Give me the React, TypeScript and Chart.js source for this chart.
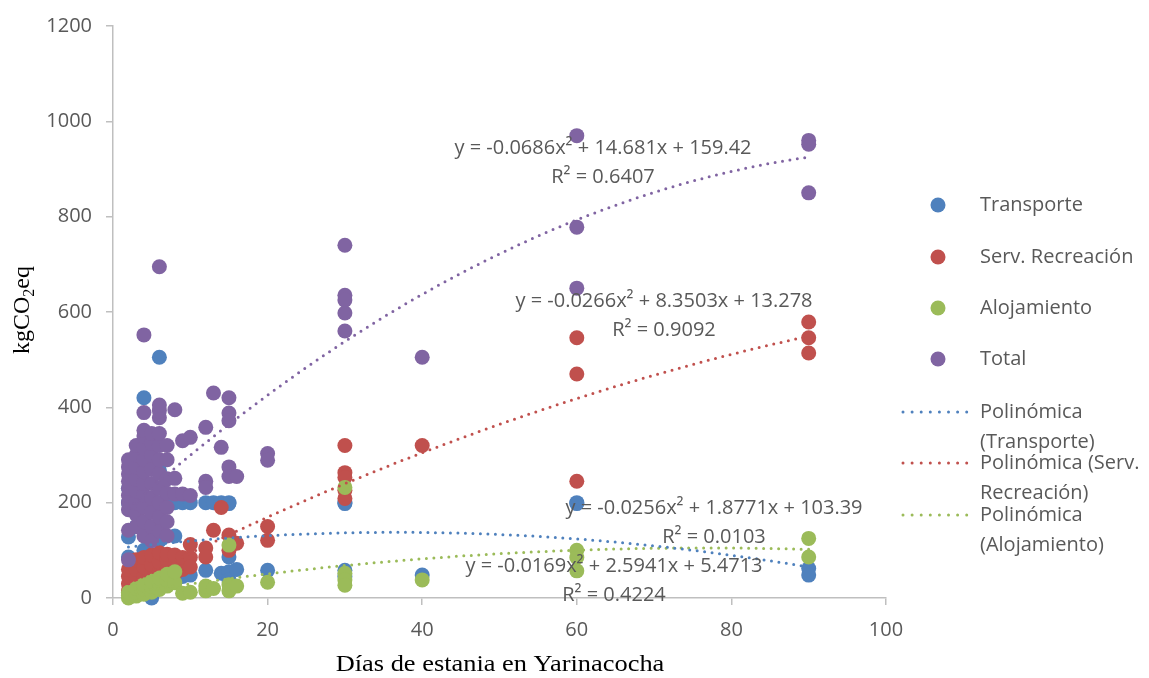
import React, { useEffect, useRef } from "react";
import { Chart, registerables } from "chart.js";

Chart.register(...registerables);

const W = 1149;
const H = 678;

// ---- data (x = días, y = kgCO2eq) ----
const transporte: [number, number][] = [
  [2, 128], [2, 200], [2, 230], [2, 86], [3, 200], [3, 60], [3, 150],
  [4, 420], [4, 200], [4, 100], [5, 0], [5, 198], [5, 130], [5, 15],
  [6, 505], [6, 268], [6, 200], [6, 120], [7, 200], [7, 60], [8, 200], [8, 130],
  [9, 200], [9, 45], [10, 200], [10, 48], [12, 200], [12, 58], [13, 200],
  [14, 200], [14, 52], [15, 200], [15, 198], [15, 86], [15, 55], [15, 38],
  [16, 60], [20, 58], [30, 200], [30, 198], [30, 58], [30, 45], [40, 48],
  [60, 200], [60, 198], [90, 62], [90, 48],
];

const recreacion: [number, number][] = [
  [2, 15], [2, 30], [2, 45], [2, 60], [3, 20], [3, 40], [3, 60], [3, 80],
  [4, 25], [4, 45], [4, 65], [4, 85], [5, 30], [5, 50], [5, 70], [5, 90],
  [6, 35], [6, 55], [6, 75], [6, 95], [7, 40], [7, 60], [7, 80], [7, 92],
  [8, 50], [8, 70], [8, 90], [9, 60], [9, 85], [10, 112], [10, 85], [10, 65],
  [12, 105], [12, 86], [13, 142], [14, 190], [15, 132], [15, 100], [16, 115],
  [20, 150], [20, 121], [30, 320], [30, 263], [30, 253], [30, 226], [30, 209],
  [40, 320], [60, 546], [60, 470], [60, 245], [90, 579], [90, 546], [90, 514],
];

const alojamiento: [number, number][] = [
  [2, 0], [2, 6], [2, 12], [3, 4], [3, 12], [3, 20], [4, 8], [4, 18], [4, 28],
  [5, 12], [5, 24], [5, 35], [6, 18], [6, 30], [6, 42], [7, 25], [7, 38], [7, 50],
  [8, 32], [8, 55], [9, 10], [10, 12], [12, 15], [12, 25], [13, 20],
  [15, 111], [15, 28], [15, 15], [16, 25], [20, 33],
  [30, 232], [30, 52], [30, 38], [30, 27], [40, 38],
  [60, 100], [60, 85], [60, 57], [90, 125], [90, 86],
];

const total: [number, number][] = [
  [2, 80], [2, 142], [2, 185], [2, 200], [2, 215], [2, 230], [2, 245], [2, 260], [2, 275], [2, 290],
  [3, 150], [3, 175], [3, 200], [3, 225], [3, 250], [3, 275], [3, 300], [3, 320],
  [4, 130], [4, 160], [4, 190], [4, 215], [4, 240], [4, 265], [4, 290], [4, 315], [4, 340], [4, 352], [4, 389], [4, 552],
  [5, 120], [5, 150], [5, 180], [5, 210], [5, 240], [5, 270], [5, 300], [5, 325], [5, 345],
  [6, 140], [6, 170], [6, 200], [6, 230], [6, 261], [6, 290], [6, 320], [6, 345], [6, 378], [6, 393], [6, 405], [6, 695],
  [7, 130], [7, 160], [7, 190], [7, 220], [7, 250], [7, 290], [7, 320],
  [8, 251], [8, 395], [8, 218], [9, 330], [9, 218], [10, 337], [10, 215],
  [12, 358], [12, 245], [12, 232], [13, 430], [14, 316],
  [15, 420], [15, 388], [15, 372], [15, 275], [15, 255], [16, 255],
  [20, 303], [20, 289], [30, 740], [30, 635], [30, 625], [30, 598], [30, 560],
  [40, 505], [60, 970], [60, 778], [60, 650], [90, 960], [90, 952], [90, 850],
];

// polynomial trendline coefficients [a2, a1, a0] as printed on the chart
const coefTransporte = [-0.0256, 1.8771, 103.39];
const coefRecreacion = [-0.0266, 8.3503, 13.278];
const coefAlojamiento = [-0.0169, 2.5941, 5.4713];
const coefTotal = [-0.0686, 14.681, 159.42];
const trendRange = [2, 90];

const eqTransporte = ["y = -0.0256x² + 1.8771x + 103.39", "R² = 0.0103"];
const eqRecreacion = ["y = -0.0266x² + 8.3503x + 13.278", "R² = 0.9092"];
const eqAlojamiento = ["y = -0.0169x² + 2.5941x + 5.4713", "R² = 0.4224"];
const eqTotal = ["y = -0.0686x² + 14.681x + 159.42", "R² = 0.6407"];

const xTickValues = [0, 20, 40, 60, 80, 100];
const yTickValues = [0, 200, 400, 600, 800, 1000, 1200];

const legendPoints = ["Transporte", "Serv. Recreación", "Alojamiento", "Total"];
const legendLines = [
  ["Polinómica", "(Transporte)"],
  ["Polinómica (Serv.", "Recreación)"],
  ["Polinómica", "(Alojamiento)"],
];

const BLUE = "#4F81BD";
const RED = "#C0504D";
const GREEN = "#9BBB59";
const PURPLE = "#8064A2";
const TEXT = "#595959";
const AXIS = "#BFBFBF";
const SANS = '"Open Sans", sans-serif';
const SERIF = '"Liberation Serif", "Times New Roman", serif';

function trendPoints(coef: number[]) {
  const pts: { x: number; y: number }[] = [];
  for (let x = trendRange[0]; x <= trendRange[1] + 1e-9; x += 0.5) {
    pts.push({ x, y: coef[0] * x * x + coef[1] * x + coef[2] });
  }
  return pts;
}

const toXY = (arr: [number, number][]) => arr.map(([x, y]) => ({ x, y }));

function scatterDs(label: string, arr: [number, number][], color: string, order: number) {
  return {
    type: "scatter" as const,
    label,
    data: toXY(arr),
    backgroundColor: color,
    borderColor: color,
    borderWidth: 0,
    pointRadius: 7.5,
    pointHoverRadius: 7.5,
    order,
    clip: false as any,
  };
}

function trendDs(label: string, coef: number[], color: string) {
  return {
    type: "line" as const,
    label,
    data: trendPoints(coef),
    borderColor: color,
    backgroundColor: color,
    borderWidth: 3,
    borderDash: [0, 7.5],
    borderCapStyle: "round" as const,
    pointRadius: 0,
    fill: false,
    tension: 0,
    order: 0,
    clip: false as any,
  };
}

const textPlugin = {
  id: "texts",
  afterDraw(chart: any) {
    const ctx: CanvasRenderingContext2D = chart.ctx;
    ctx.save();
    ctx.fillStyle = TEXT;
    ctx.textAlign = "center";
    ctx.textBaseline = "middle";
    ctx.font = `20px ${SANS}`;
    const eqs: [string[], number, number][] = [
      [eqTotal, 603, 148],
      [eqRecreacion, 664, 301],
      [eqTransporte, 714, 508],
      [eqAlojamiento, 614, 566],
    ];
    for (const [lines, cx, cy] of eqs) {
      ctx.fillText(lines[0], cx, cy);
      ctx.fillText(lines[1], cx, cy + 29);
    }

    // legend
    const ptColors = [BLUE, RED, GREEN, PURPLE];
    const rows = [205, 257, 308, 359];
    ctx.textAlign = "left";
    legendPoints.forEach((t, i) => {
      ctx.beginPath();
      ctx.fillStyle = ptColors[i];
      ctx.arc(938, rows[i], 7.5, 0, Math.PI * 2);
      ctx.fill();
      ctx.fillStyle = TEXT;
      ctx.fillText(t, 980, rows[i]);
    });
    const lineColors = [BLUE, RED, GREEN];
    const lineRows = [412, 463, 515];
    legendLines.forEach((lines, i) => {
      const y = lineRows[i];
      ctx.save();
      ctx.strokeStyle = lineColors[i];
      ctx.lineWidth = 3;
      ctx.lineCap = "round";
      ctx.setLineDash([0, 9.1]);
      ctx.beginPath();
      ctx.moveTo(903, y);
      ctx.lineTo(968, y);
      ctx.stroke();
      ctx.restore();
      ctx.fillStyle = TEXT;
      ctx.fillText(lines[0], 980, y);
      ctx.fillText(lines[1], 980, y + 30);
    });

    // x axis title (slightly widened like the original)
    ctx.save();
    ctx.fillStyle = "#000";
    ctx.textAlign = "center";
    ctx.textBaseline = "alphabetic";
    ctx.font = `24px ${SERIF}`;
    ctx.translate(500, 671);
    ctx.scale(1.1, 1);
    ctx.fillText("Días de estania en Yarinacocha", 0, 0);
    ctx.restore();

    // y axis title with subscript
    ctx.save();
    ctx.fillStyle = "#000";
    ctx.translate(29, 310);
    ctx.rotate(-Math.PI / 2);
    ctx.textAlign = "left";
    ctx.textBaseline = "alphabetic";
    const big = `24px ${SERIF}`;
    const small = `16px ${SERIF}`;
    ctx.font = big;
    const w1 = ctx.measureText("kgCO").width;
    const w3 = ctx.measureText("eq").width;
    ctx.font = small;
    const w2 = ctx.measureText("2").width;
    let x0 = -(w1 + w2 + w3) / 2;
    ctx.font = big;
    ctx.fillText("kgCO", x0, 0);
    x0 += w1;
    ctx.font = small;
    ctx.fillText("2", x0, 5);
    x0 += w2;
    ctx.font = big;
    ctx.fillText("eq", x0, 0);
    ctx.restore();

    ctx.restore();
  },
};

export default function App() {
  const ref = useRef<HTMLCanvasElement | null>(null);
  useEffect(() => {
    if (!ref.current) return;
    const chart = new Chart(ref.current, {
      type: "scatter",
      data: {
        datasets: [
          trendDs("Polinómica (Transporte)", coefTransporte, BLUE),
          trendDs("Polinómica (Serv. Recreación)", coefRecreacion, RED),
          trendDs("Polinómica (Alojamiento)", coefAlojamiento, GREEN),
          trendDs("Polinómica (Total)", coefTotal, PURPLE),
          scatterDs("Total", total, PURPLE, 1),
          scatterDs("Alojamiento", alojamiento, GREEN, 2),
          scatterDs("Serv. Recreación", recreacion, RED, 3),
          scatterDs("Transporte", transporte, BLUE, 4),
        ] as any,
      },
      options: {
        responsive: false,
        maintainAspectRatio: false,
        animation: false,
        devicePixelRatio: 1,
        layout: { padding: { left: 0, right: 263, top: 24, bottom: 0 } },
        plugins: {
          legend: { display: false },
          tooltip: { enabled: false },
        },
        scales: {
          x: {
            type: "linear",
            min: 0,
            max: 100,
            afterBuildTicks: (s: any) => {
              s.ticks = xTickValues.map((v) => ({ value: v }));
            },
            afterFit: (s: any) => {
              s.height = 80;
            },
            grid: {
              display: true,
              drawOnChartArea: false,
              drawTicks: true,
              tickLength: 7,
              color: AXIS,
              lineWidth: 1.5,
            },
            border: { display: true, color: AXIS, width: 1.5 },
            ticks: {
              font: { family: SANS, size: 20 },
              color: TEXT,
              padding: 13,
              maxRotation: 0,
              callback: (v: any) => String(v),
            },
          },
          y: {
            type: "linear",
            min: 0,
            max: 1200,
            afterBuildTicks: (s: any) => {
              s.ticks = yTickValues.map((v) => ({ value: v }));
            },
            afterFit: (s: any) => {
              s.width = 113;
            },
            grid: {
              display: true,
              drawOnChartArea: false,
              drawTicks: true,
              tickLength: 7,
              color: AXIS,
              lineWidth: 1.5,
            },
            border: { display: true, color: AXIS, width: 1.5 },
            ticks: {
              font: { family: SANS, size: 20 },
              color: TEXT,
              padding: 14,
              callback: (v: any) => String(v),
            },
          },
        },
      } as any,
      plugins: [textPlugin],
    });
    return () => chart.destroy();
  }, []);
  return (
    <div style={{ position: "fixed", left: 0, top: 0, width: W, height: H, background: "#fff" }}>
      <canvas ref={ref} width={W} height={H} style={{ width: W, height: H, display: "block" }} />
    </div>
  );
}
